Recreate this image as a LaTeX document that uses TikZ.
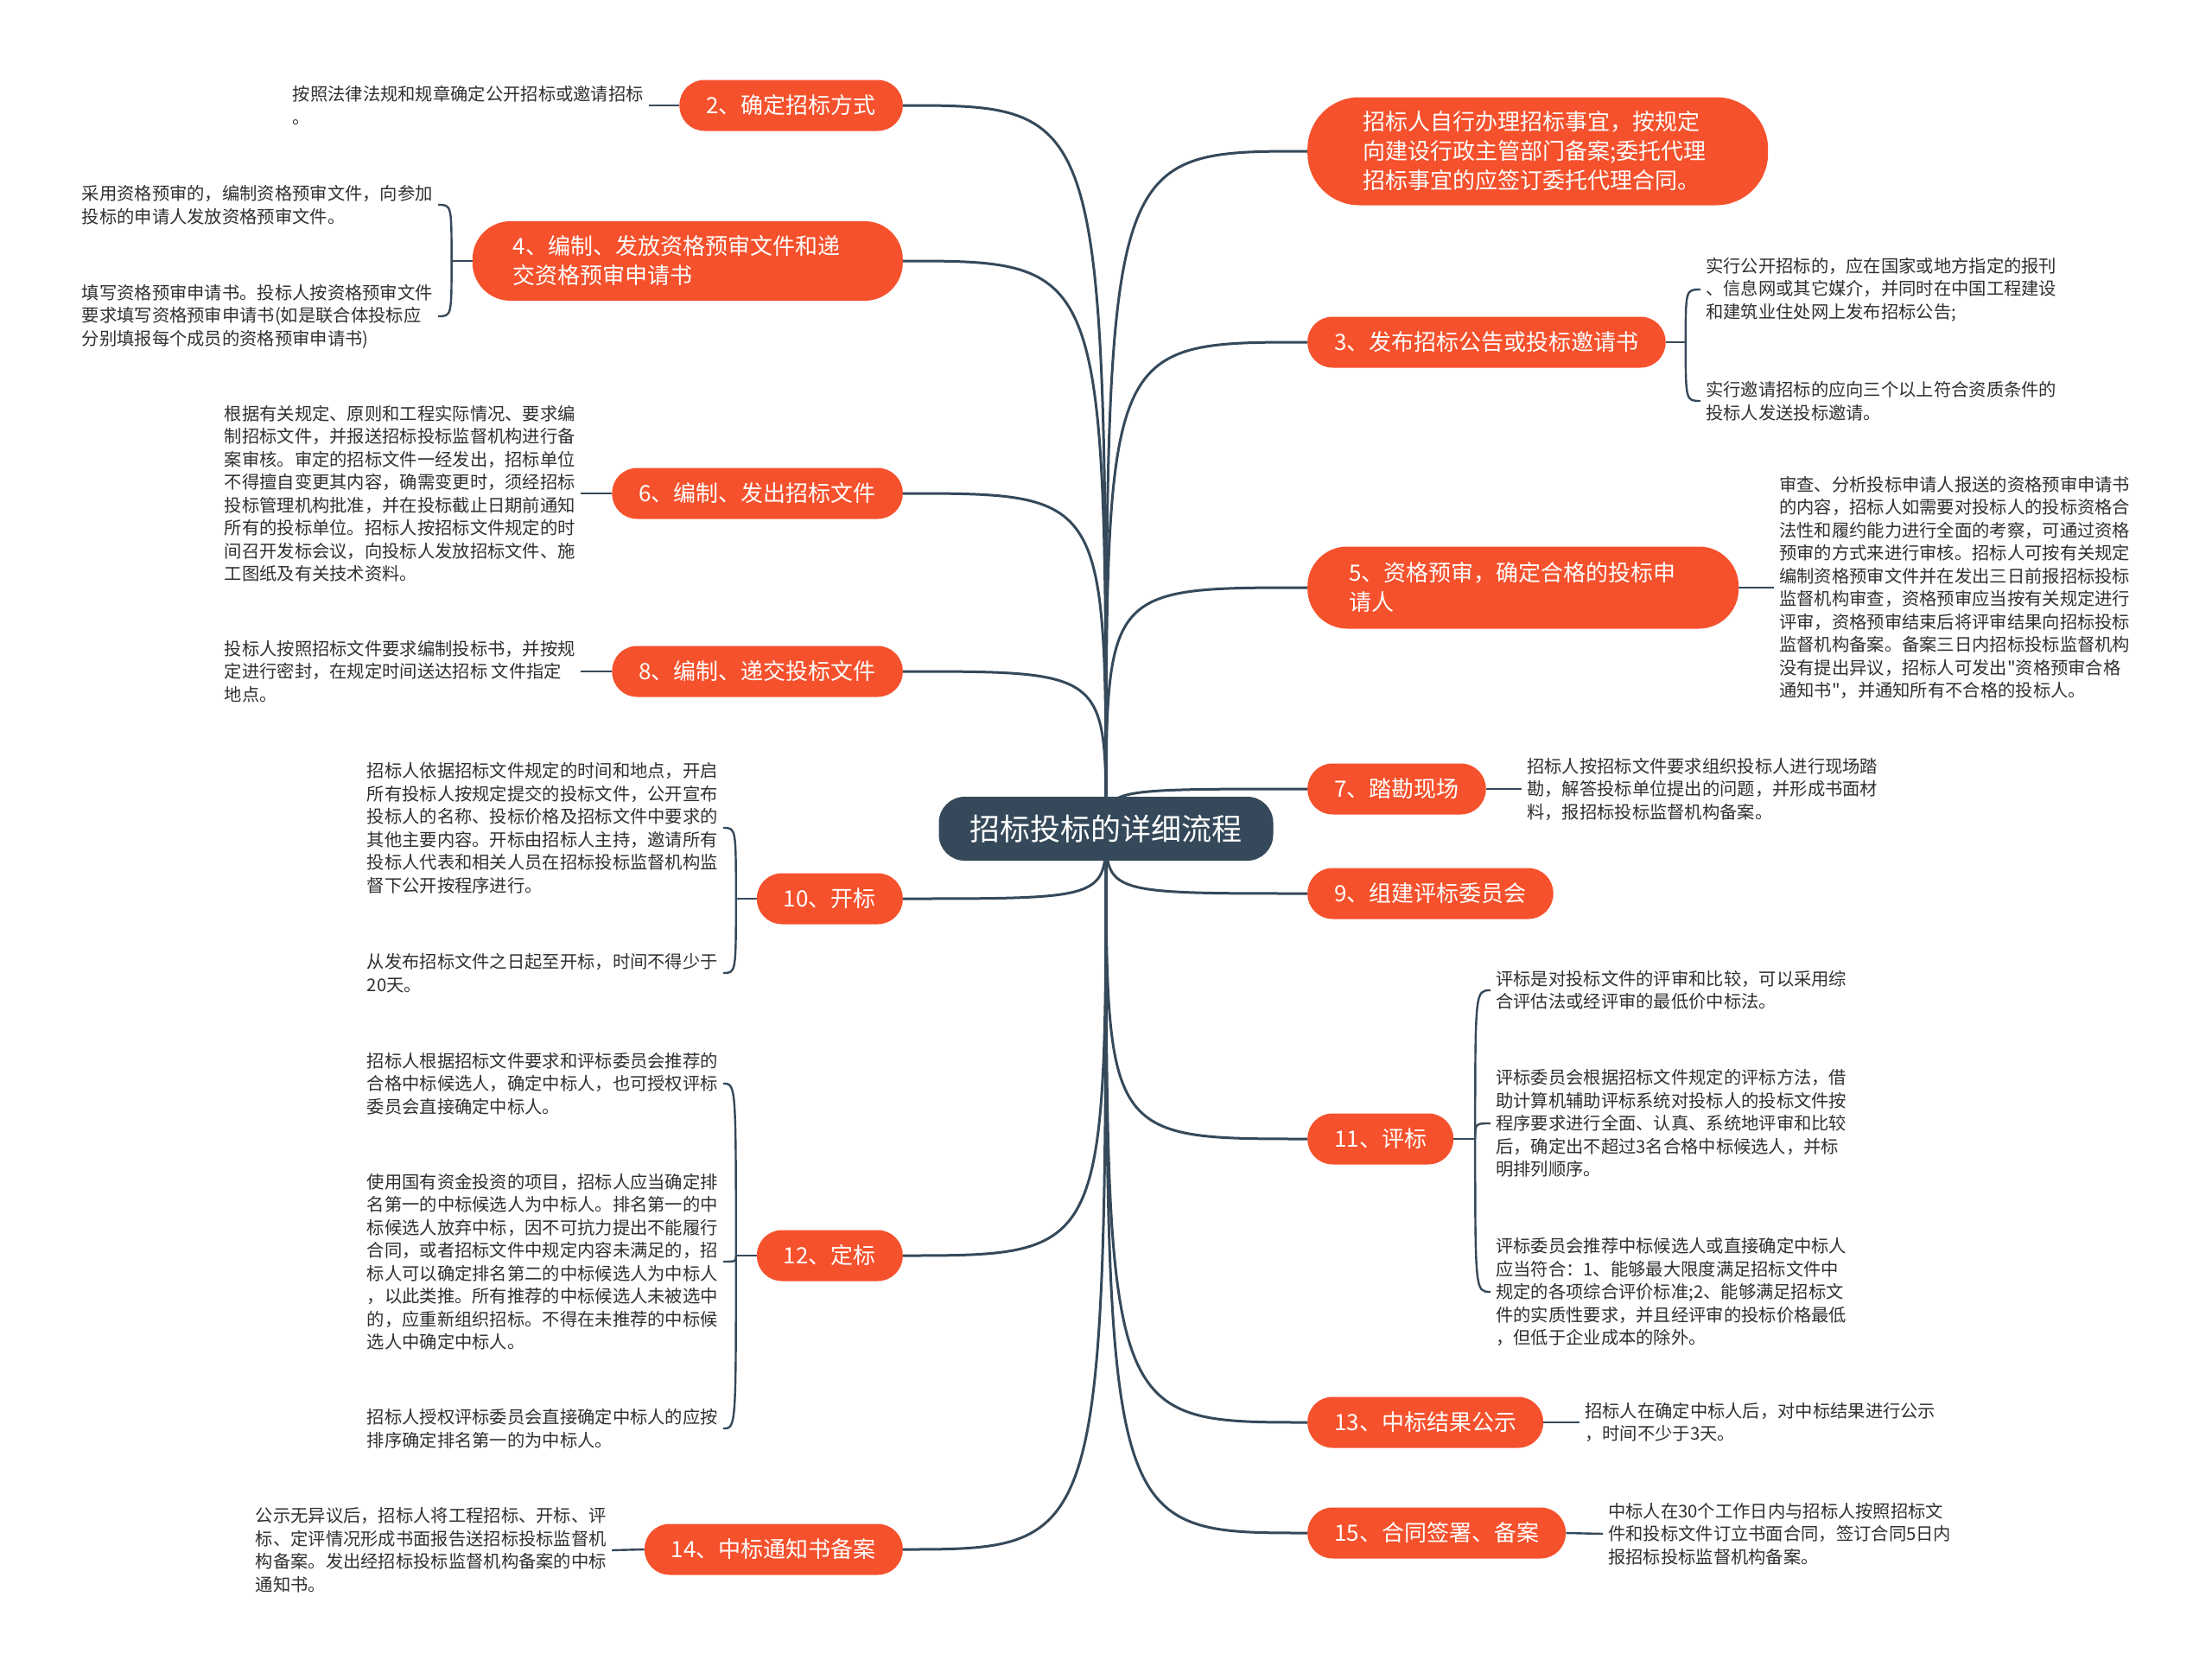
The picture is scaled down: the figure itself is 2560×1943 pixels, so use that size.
\documentclass[tikz,border=0pt]{standalone}
\usepackage{fontspec}
\setmainfont{Noto Sans CJK SC}[Ligatures=TeXOff]
\usetikzlibrary{backgrounds}
\definecolor{rootblue}{HTML}{35495A}
\definecolor{brorange}{HTML}{F5512C}
\definecolor{leafgray}{HTML}{303030}

\begin{document}
\begin{tikzpicture}[x=1pt, y=-1pt,
    rootnode/.style={fill=rootblue, text=white, rounded corners=30pt, minimum height=74pt, inner xsep=36pt, inner ysep=0pt, font=\fontsize{35}{42}\selectfont},
    branch/.style={fill=brorange, text=white, rounded corners=29pt, minimum height=59pt, inner xsep=31pt, inner ysep=0pt, font=\fontsize{26}{34}\selectfont},
    leaf/.style={text=leafgray, align=left, inner xsep=6pt, inner ysep=2pt, font=\fontsize{20.3}{26.5}\selectfont},
    link/.style={draw=rootblue, line width=3pt},
    sublink/.style={draw=rootblue, line width=2.4pt}]
    \useasboundingbox (0,0) rectangle (2560,1943);

    % Root
    \node[rootnode] (root) at (1280,959) {招标投标的详细流程};

    % Left branches
    \node[branch, anchor=east] (n2) at (1045,122) {2、确定招标方式};
    \node[branch, anchor=east, text width=404pt, align=left, inner xsep=47pt, minimum height=92pt, rounded corners=44pt] (n4) at (1045,302) {4、编制、发放资格预审文件和递\\交资格预审申请书};
    \node[branch, anchor=east] (n6) at (1045,571) {6、编制、发出招标文件};
    \node[branch, anchor=east] (n8) at (1045,777) {8、编制、递交投标文件};
    \node[branch, anchor=east] (n10) at (1045,1040) {10、开标};
    \node[branch, anchor=east] (n12) at (1045,1453) {12、定标};
    \node[branch, anchor=east] (n14) at (1045,1793) {14、中标通知书备案};

    % Right branches
    \node[branch, anchor=west, text width=405pt, align=left, inner xsep=64pt, minimum height=125pt, rounded corners=60pt] (nA) at (1513,175) {招标人自行办理招标事宜，按规定\\向建设行政主管部门备案;委托代理\\招标事宜的应签订委托代理合同。};
    \node[branch, anchor=west] (n3) at (1513,396) {3、发布招标公告或投标邀请书};
    \node[branch, anchor=west, text width=403pt, align=left, inner xsep=48pt, minimum height=95pt, rounded corners=46pt] (n5) at (1513,680) {5、资格预审，确定合格的投标申\\请人};
    \node[branch, anchor=west] (n7) at (1513,913) {7、踏勘现场};
    \node[branch, anchor=west] (n9) at (1513,1034) {9、组建评标委员会};
    \node[branch, anchor=west] (n11) at (1513,1318) {11、评标};
    \node[branch, anchor=west] (n13) at (1513,1646) {13、中标结果公示};
    \node[branch, anchor=west] (n15) at (1513,1774) {15、合同签署、备案};

    % Left leaves
    \node[leaf, anchor=east] (l2) at (751,122) {按照法律法规和规章确定公开招标或邀请招标\\。};
    \node[leaf, anchor=east] (l4a) at (507,237) {采用资格预审的，编制资格预审文件，向参加\\投标的申请人发放资格预审文件。};
    \node[leaf, anchor=east] (l4b) at (507,366) {填写资格预审申请书。投标人按资格预审文件\\要求填写资格预审申请书(如是联合体投标应\\分别填报每个成员的资格预审申请书)};
    \node[leaf, anchor=east] (l6) at (672,571) {根据有关规定、原则和工程实际情况、要求编\\制招标文件，并报送招标投标监督机构进行备\\案审核。审定的招标文件一经发出，招标单位\\不得擅自变更其内容，确需变更时，须经招标\\投标管理机构批准，并在投标截止日期前通知\\所有的投标单位。招标人按招标文件规定的时\\间召开发标会议，向投标人发放招标文件、施\\工图纸及有关技术资料。};
    \node[leaf, anchor=east] (l8) at (672,777) {投标人按照招标文件要求编制投标书，并按规\\定进行密封，在规定时间送达招标 文件指定\\地点。};
    \node[leaf, anchor=east] (l10a) at (837,958) {招标人依据招标文件规定的时间和地点，开启\\所有投标人按规定提交的投标文件，公开宣布\\投标人的名称、投标价格及招标文件中要求的\\其他主要内容。开标由招标人主持，邀请所有\\投标人代表和相关人员在招标投标监督机构监\\督下公开按程序进行。};
    \node[leaf, anchor=east] (l10b) at (837,1126) {从发布招标文件之日起至开标，时间不得少于\\20天。};
    \node[leaf, anchor=east] (l12a) at (837,1254) {招标人根据招标文件要求和评标委员会推荐的\\合格中标候选人，确定中标人，也可授权评标\\委员会直接确定中标人。};
    \node[leaf, anchor=east] (l12b) at (837,1460) {使用国有资金投资的项目，招标人应当确定排\\名第一的中标候选人为中标人。排名第一的中\\标候选人放弃中标，因不可抗力提出不能履行\\合同，或者招标文件中规定内容未满足的，招\\标人可以确定排名第二的中标候选人为中标人\\，以此类推。所有推荐的中标候选人未被选中\\的，应重新组织招标。不得在未推荐的中标候\\选人中确定中标人。};
    \node[leaf, anchor=east] (l12c) at (837,1653) {招标人授权评标委员会直接确定中标人的应按\\排序确定排名第一的为中标人。};
    \node[leaf, anchor=east] (l14) at (708,1794) {公示无异议后，招标人将工程招标、开标、评\\标、定评情况形成书面报告送招标投标监督机\\构备案。发出经招标投标监督机构备案的中标\\通知书。};

    % Right leaves
    \node[leaf, anchor=west] (l3a) at (1968,335) {实行公开招标的，应在国家或地方指定的报刊\\、信息网或其它媒介，并同时在中国工程建设\\和建筑业住处网上发布招标公告;};
    \node[leaf, anchor=west] (l3b) at (1968,464) {实行邀请招标的应向三个以上符合资质条件的\\投标人发送投标邀请。};
    \node[leaf, anchor=west] (l5) at (2053,680) {审查、分析投标申请人报送的资格预审申请书\\的内容，招标人如需要对投标人的投标资格合\\法性和履约能力进行全面的考察，可通过资格\\预审的方式来进行审核。招标人可按有关规定\\编制资格预审文件并在发出三日前报招标投标\\监督机构审查，资格预审应当按有关规定进行\\评审，资格预审结束后将评审结果向招标投标\\监督机构备案。备案三日内招标投标监督机构\\没有提出异议，招标人可发出"资格预审合格\\通知书"，并通知所有不合格的投标人。};
    \node[leaf, anchor=west] (l7) at (1761,913) {招标人按招标文件要求组织投标人进行现场踏\\勘，解答投标单位提出的问题，并形成书面材\\料，报招标投标监督机构备案。};
    \node[leaf, anchor=west] (l11a) at (1725,1146) {评标是对投标文件的评审和比较，可以采用综\\合评估法或经评审的最低价中标法。};
    \node[leaf, anchor=west] (l11b) at (1725,1300) {评标委员会根据招标文件规定的评标方法，借\\助计算机辅助评标系统对投标人的投标文件按\\程序要求进行全面、认真、系统地评审和比较\\后，确定出不超过3名合格中标候选人，并标\\明排列顺序。};
    \node[leaf, anchor=west] (l11c) at (1725,1495) {评标委员会推荐中标候选人或直接确定中标人\\应当符合：1、能够最大限度满足招标文件中\\规定的各项综合评价标准;2、能够满足招标文\\件的实质性要求，并且经评审的投标价格最低\\，但低于企业成本的除外。};
    \node[leaf, anchor=west] (l13) at (1828,1646) {招标人在确定中标人后，对中标结果进行公示\\，时间不少于3天。};
    \node[leaf, anchor=west] (l15) at (1855,1775) {中标人在30个工作日内与招标人按照招标文\\件和投标文件订立书面合同，签订合同5日内\\报招标投标监督机构备案。};

    % Junctions of the grouped leaves
    \coordinate (j4) at ([xshift=-24pt]n4.west);
    \coordinate (j10) at ([xshift=-24pt]n10.west);
    \coordinate (j12) at ([xshift=-24pt]n12.west);
    \coordinate (j3) at ([xshift=23pt]n3.east);
    \coordinate (j11) at ([xshift=25pt]n11.east);

    \begin{scope}[on background layer]
        \fill[white] (0,0) rectangle (2560,1943);
        % Root to branches
        \foreach \b in {n2,n4,n6,n8,n10,n12,n14}
            \draw[link] (root.center) .. controls (root.center |- \b.east) and (root.center |- \b.east) .. (\b.east);
        \foreach \b in {nA,n3,n5,n7,n9,n11,n13,n15}
            \draw[link] (root.center) .. controls (root.center |- \b.west) and (root.center |- \b.west) .. (\b.west);

        % Branches to single leaves
        \draw[sublink] (n2.west) -- (l2.east);
        \draw[sublink] (n6.west) -- (l6.east);
        \draw[sublink] (n8.west) -- (l8.east);
        \draw[sublink] (n14.west) -- (l14.east);
        \draw[sublink] (n5.east) -- (l5.west);
        \draw[sublink] (n7.east) -- (l7.west);
        \draw[sublink] (n13.east) -- (l13.west);
        \draw[sublink] (n15.east) -- (l15.west);

        % Branches to grouped leaves
        \draw[sublink] (n4.west) -- (j4);
        \draw[sublink] (n10.west) -- (j10);
        \draw[sublink] (n12.west) -- (j12);
        \draw[sublink] (n3.east) -- (j3);
        \draw[sublink] (n11.east) -- (j11);
        \foreach \j/\l in {j4/l4a,j4/l4b,j10/l10a,j10/l10b,j12/l12a,j12/l12b,j12/l12c}
            \draw[sublink] (\j) .. controls (\j |- \l.east) .. (\l.east);
        \foreach \j/\l in {j3/l3a,j3/l3b,j11/l11a,j11/l11b,j11/l11c}
            \draw[sublink] (\j) .. controls (\j |- \l.west) .. (\l.west);
    \end{scope}
\end{tikzpicture}
\end{document}
